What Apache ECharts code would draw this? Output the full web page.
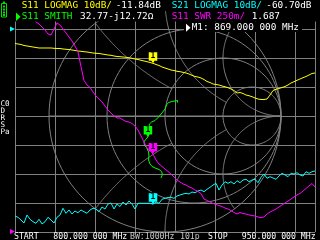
<!DOCTYPE html>
<html><head><meta charset="utf-8">
<script src="https://cdn.jsdelivr.net/npm/echarts@6/dist/echarts.min.js"></script>
<style>html,body{margin:0;padding:0;background:#000;overflow:hidden}#c{width:320px;height:240px}</style>
</head><body><div id="c"></div>
<script>
// ---- sweep ----
const START_MHZ = 800, STOP_MHZ = 950, POINTS = 101;
const freqs = Array.from({length: POINTS}, (_, i) => START_MHZ + i * (STOP_MHZ - START_MHZ) / (POINTS - 1));
const MARKER_INDEX = 46; // 869 MHz

// ---- trace 1: S11 LOGMAG (dB) ----
const s11LogMag = [
 -5.00,-5.17,-5.34,-5.69,-5.86,-6.03,-6.21,-6.38,-6.55,-6.55,
 -6.55,-6.55,-6.55,-6.66,-6.72,-6.72,-6.90,-7.00,-7.07,-7.24,
 -7.41,-7.59,-7.69,-7.83,-7.93,-8.10,-8.28,-8.38,-8.45,-8.62,
 -8.79,-8.97,-9.07,-9.31,-9.48,-9.55,-9.66,-9.76,-9.90,-10.10,
 -10.34,-10.52,-10.79,-11.03,-11.28,-11.55,-11.84,-12.24,-12.59,-13.10,
 -13.45,-13.79,-14.14,-14.31,-14.59,-14.72,-14.93,-15.17,-15.52,-15.97,
 -16.38,-16.55,-16.90,-17.41,-18.10,-18.45,-18.97,-19.14,-19.31,-19.66,
 -19.90,-20.24,-20.69,-21.21,-22.07,-21.90,-22.24,-22.76,-23.00,-23.34,
 -23.79,-24.14,-24.31,-24.31,-24.14,-22.76,-21.21,-20.79,-20.52,-20.17,
 -19.83,-19.31,-18.62,-18.17,-17.69,-17.24,-16.79,-16.38,-15.86,-15.34,
 -15.17];

// ---- trace 2: S21 LOGMAG (dB) ----
const s21LogMag = [
 -64.48,-64.93,-65.86,-66.90,-64.14,-65.62,-66.45,-67.00,-65.62,-67.24,
 -66.45,-64.93,-65.86,-66.90,-64.93,-64.14,-61.83,-63.55,-62.41,-63.79,
 -62.76,-63.34,-62.41,-63.00,-63.55,-62.41,-61.83,-62.07,-63.00,-61.38,
 -62.07,-60.34,-60.00,-62.07,-60.34,-61.21,-59.66,-60.69,-59.31,-60.34,
 -62.07,-60.10,-60.10,-60.10,-60.10,-60.10,-60.40,-59.66,-60.10,-58.72,
 -58.38,-58.10,-58.03,-58.38,-57.59,-57.24,-56.90,-56.66,-56.90,-56.21,
 -56.45,-55.86,-55.52,-56.10,-55.28,-54.59,-53.79,-53.21,-55.52,-53.79,
 -52.66,-53.21,-52.66,-53.45,-52.31,-53.00,-52.07,-51.83,-52.66,-52.07,
 -51.83,-53.00,-51.14,-50.00,-51.48,-50.93,-51.38,-51.83,-50.69,-49.76,
 -50.34,-50.93,-49.76,-50.00,-49.55,-50.34,-50.69,-49.21,-49.76,-49.21,
 -48.97];

// ---- trace 4: S11 SWR ----
const s11Swr = [
 3.172,3.103,3.043,2.983,2.931,2.888,2.845,2.810,2.793,2.767,
 2.741,2.707,2.698,2.750,2.802,2.784,2.750,2.716,2.681,2.647,
 2.603,2.552,2.425,2.306,2.267,2.247,2.207,2.172,2.147,2.121,
 2.086,2.052,2.026,2.000,1.983,1.983,1.966,1.953,1.948,1.935,
 1.914,1.879,1.828,1.776,1.724,1.703,1.672,1.621,1.586,1.565,
 1.543,1.522,1.500,1.474,1.448,1.431,1.414,1.405,1.388,1.379,
 1.362,1.349,1.332,1.284,1.272,1.259,1.246,1.237,1.228,1.220,
 1.207,1.198,1.185,1.168,1.155,1.168,1.159,1.155,1.147,1.142,
 1.138,1.129,1.125,1.129,1.155,1.172,1.185,1.198,1.216,1.233,
 1.250,1.267,1.284,1.302,1.319,1.332,1.353,1.375,1.397,1.418,
 1.388];

// ---- trace 3: S11 SMITH (reflection coefficient, as drawn) ----
const s11GammaRe = [0.108,0.108,0.060,0.030,0.013,0.000,-0.026,-0.056,-0.086,-0.116,-0.134,-0.142,-0.147,-0.147,
  -0.168,-0.181,-0.177,-0.159,-0.142,-0.138,-0.142,-0.129,-0.112,-0.086,-0.052,-0.030,-0.022,-0.034];
const s11GammaIm = [0.116,0.134,0.125,0.116,0.095,0.060,0.026,-0.009,-0.039,-0.052,-0.069,-0.103,-0.147,-0.181,
  -0.203,-0.224,-0.254,-0.272,-0.310,-0.345,-0.379,-0.414,-0.435,-0.448,-0.461,-0.478,-0.504,-0.534];
const SMITH_MARKER_INDEX = 13;

// ---- Smith grid definition (normalised impedance values) ----
const smithResistances = [1/3, 1, 3];
const smithReactances = [0.5, 1, 2];
const smithReactanceClip = {0.5: 1, 1: 3, 2: Infinity};

// ---- texts ----
const row1Texts = [
  {t: 'S11 LOGMAG 10dB/', x: 21.7, c: '#ffff00'},
  {t: '-11.84dB', x: 115.7, c: '#ffffff'},
  {t: 'S21 LOGMAG 10dB/', x: 171.7, c: '#00ffff'},
  {t: '-60.70dB', x: 266.3, c: '#ffffff'}
];
const row2Texts = [
  {t: 'S11 SMITH', x: 21.7, c: '#00ff00'},
  {t: '32.77-j12.72Ω', x: 80, c: '#ffffff'},
  {t: 'S11 SWR 250m/', x: 171.7, c: '#ff00ff'},
  {t: '1.687', x: 251.7, c: '#ffffff'}
];
const row3Texts = [{t: 'M1: 869.000 000 MHz', x: 191.7, c: '#ffffff'}];
const bottomTexts = [
  {t: 'START', x: 14, c: '#ffffff'},
  {t: '800.000 000 MHz', x: 53.3, c: '#ffffff'},
  {t: 'BW:1000Hz', x: 130, c: '#c8c8c8'},
  {t: '101p', x: 180, c: '#c8c8c8'},
  {t: 'STOP', x: 208, c: '#ffffff'},
  {t: '950.000 000 MHz', x: 241.7, c: '#ffffff'}
];
const sideTexts = ['C0', 'D', 'R', 'S', 'Pa'];

// ================= build =================
const GRID = '#808080';
const MONO = 'DejaVu Sans Mono';

function gammaOf(re, im) { // (z-1)/(z+1)
  const ar = re - 1, ai = im, br = re + 1, bi = im;
  const d = br * br + bi * bi;
  return [(ar * br + ai * bi) / d, (ai * br - ar * bi) / d];
}
const smithArcs = [];
smithArcs.push({c: [0, 0], r: 1, a1: 0, a2: 2 * Math.PI});
smithArcs.push({line: [[-1, 0], [1, 0]]});
smithResistances.forEach(r => smithArcs.push({c: [r / (1 + r), 0], r: 1 / (1 + r), a1: 0, a2: 2 * Math.PI}));
smithReactances.forEach(x => {
  [1, -1].forEach(s => {
    const xx = s * x;
    const c = [1, 1 / xx];
    const p1 = gammaOf(0, xx);
    const rc = smithReactanceClip[x];
    const p2 = isFinite(rc) ? gammaOf(rc, xx) : [1, 0];
    let a1 = Math.atan2(p1[1] - c[1], p1[0] - c[0]);
    let a2 = Math.atan2(p2[1] - c[1], p2[0] - c[0]);
    let d = a2 - a1;
    while (d > Math.PI) d -= 2 * Math.PI;
    while (d <= -Math.PI) d += 2 * Math.PI;
    smithArcs.push({c, r: Math.abs(1 / xx), a1, a2: a1 + d});
  });
});

function lineSeries(name, data, color, xi, yi, markerCoord) {
  return {
    name, type: 'line', data, xAxisIndex: xi, yAxisIndex: yi,
    symbol: 'none', silent: true, animation: false, clip: true, z: 3,
    lineStyle: {color, width: 1}, itemStyle: {color},
    markPoint: {
      animation: false, silent: true,
      symbol: 'path://M0,0L8,0L8,8.5L5.5,8.5L4,11L2.5,8.5L0,8.5Z',
      symbolSize: [8.5, 11], symbolOffset: [0, '-50%'], symbolKeepAspect: false,
      itemStyle: {color},
      label: {show: true, formatter: '1', position: 'inside', offset: [0, -1.6], color: '#000',
        fontSize: 8, fontWeight: 'bold', fontFamily: MONO},
      data: [{coord: markerCoord}]
    }
  };
}

const graphics = [];
function bg(x, y, w, h) { graphics.push({type: 'rect', shape: {x, y, width: w, height: h}, style: {fill: '#000'}, z: 50, silent: true}); }
function txt(t, x, y, c, size) {
  graphics.push({type: 'text', x, y, silent: true, z: 60,
    style: {text: t, fill: c, fontSize: size, fontFamily: MONO, verticalAlign: 'middle', textVerticalAlign: 'middle', align: 'left', textAlign: 'left'}});
}
function poly(points, c) { graphics.push({type: 'polygon', shape: {points}, style: {fill: c}, z: 60, silent: true}); }

// text backgrounds
bg(13, 0, 160, 11); bg(170, 0, 150, 11);
bg(13, 11, 150, 10.5); bg(170, 11, 150, 10.5);
bg(184, 21.5, 118, 10.5);
bg(0, 233, 320, 7);
row1Texts.forEach(o => txt(o.t, o.x, 5.6, o.c, 9.4));
row2Texts.forEach(o => txt(o.t, o.x, 16.7, o.c, 9.4));
row3Texts.forEach(o => txt(o.t, o.x, 27.8, o.c, 9.4));
bottomTexts.forEach(o => txt(o.t, o.x, 237.3, o.c, 8.2));
sideTexts.forEach((t, i) => txt(t, 0.5, 103.8 + i * 7, '#ffffff', 7.6));
// active-trace and marker pointers
poly([[16, 12.5], [20.5, 16.7], [16, 20.9]], '#00ff00');
poly([[186, 23.8], [190.5, 27.8], [186, 31.8]], '#ffffff');
// reference level pointers
poly([[10, 26.5], [15, 29], [10, 31.5]], '#00ffff');
poly([[10, 229], [15, 231.5], [10, 234]], '#ff00ff');
// battery
graphics.push({type: 'rect', shape: {x: 1.5, y: 3.5, width: 5, height: 13.5}, style: {fill: 'none', stroke: '#00e000', lineWidth: 1}, z: 60, silent: true});
graphics.push({type: 'rect', shape: {x: 3, y: 1.5, width: 2, height: 2}, style: {fill: '#00e000'}, z: 60, silent: true});
[5.5, 8.5, 11.5, 14].forEach(y => graphics.push({type: 'rect', shape: {x: 3, y, width: 2, height: 2}, style: {fill: '#00e000'}, z: 60, silent: true}));

const chart = echarts.init(document.getElementById('c'), null, {renderer: 'canvas'});
const hiddenAxis = {show: false};
chart.setOption({
  backgroundColor: '#000',
  animation: false,
  grid: [
    {left: 15, top: 0, width: 300, height: 232, show: false},
    {left: 49, top: 0, width: 232, height: 232, show: false}
  ],
  xAxis: [
    {type: 'value', gridIndex: 0, min: START_MHZ, max: STOP_MHZ, interval: 20,
      axisLine: {show: false}, axisTick: {show: false}, axisLabel: {show: false},
      splitLine: {show: true, lineStyle: {color: GRID, width: 1}}},
    {type: 'value', gridIndex: 1, min: -1, max: 1, show: false, splitLine: {show: false}}
  ],
  yAxis: [
    {type: 'value', gridIndex: 0, min: -70, max: 10, interval: 10,
      axisLine: {show: false}, axisTick: {show: false}, axisLabel: {show: false},
      splitLine: {show: true, lineStyle: {color: GRID, width: 1}}},
    {type: 'value', gridIndex: 0, min: 1, max: 3, interval: 0.25, show: false, splitLine: {show: false}},
    {type: 'value', gridIndex: 1, min: -1, max: 1, show: false, splitLine: {show: false}}
  ],
  series: [
    {
      type: 'custom', xAxisIndex: 1, yAxisIndex: 2, silent: true, clip: false, z: 1,
      data: smithArcs.map(() => [0, 0]),
      renderItem: function (params, api) {
        const a = smithArcs[params.dataIndex];
        let pts;
        if (a.line) {
          pts = a.line.map(p => api.coord(p));
        } else {
          pts = [];
          const n = 120;
          for (let k = 0; k <= n; k++) {
            const t = a.a1 + (a.a2 - a.a1) * k / n;
            pts.push(api.coord([a.c[0] + a.r * Math.cos(t), a.c[1] + a.r * Math.sin(t)]));
          }
        }
        return {type: 'polyline', shape: {points: pts}, style: {stroke: GRID, fill: null, lineWidth: 1}};
      }
    },
    lineSeries('S11 LOGMAG', freqs.map((f, i) => [f, s11LogMag[i]]), '#ffff00', 0, 0, [freqs[MARKER_INDEX], s11LogMag[MARKER_INDEX]]),
    lineSeries('S21 LOGMAG', freqs.map((f, i) => [f, s21LogMag[i]]), '#00ffff', 0, 0, [freqs[MARKER_INDEX], s21LogMag[MARKER_INDEX]]),
    lineSeries('S11 SMITH', s11GammaRe.map((r, i) => [r, s11GammaIm[i]]), '#00ff00', 1, 2, [s11GammaRe[SMITH_MARKER_INDEX], s11GammaIm[SMITH_MARKER_INDEX]]),
    lineSeries('S11 SWR', freqs.map((f, i) => [f, s11Swr[i]]), '#ff00ff', 0, 1, [freqs[MARKER_INDEX], s11Swr[MARKER_INDEX]])
  ],
  graphic: graphics
});
</script>
</body></html>
